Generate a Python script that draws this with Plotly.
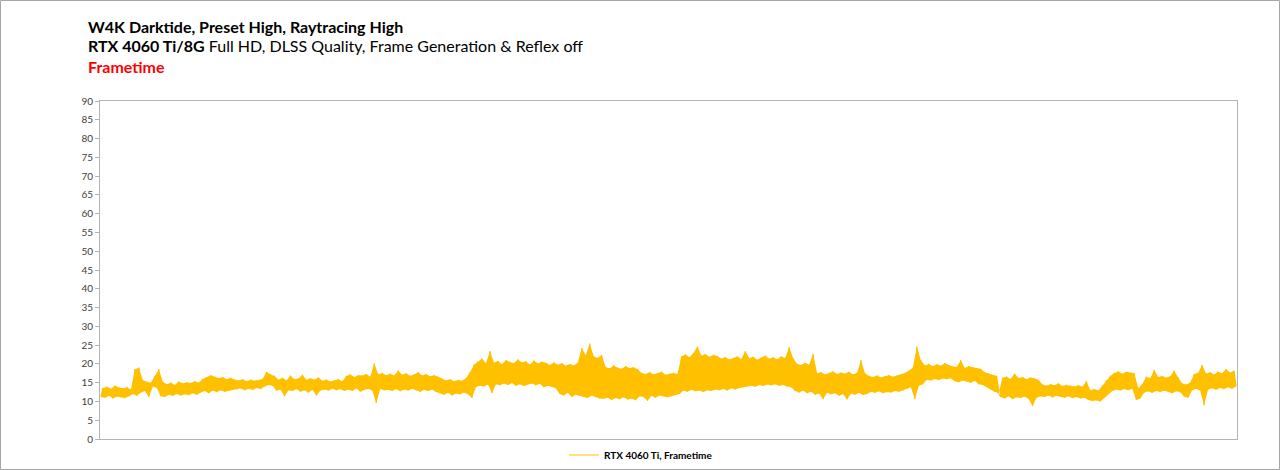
import plotly.graph_objects as go

# Frametime readings (ms), sample order left to right
seg_a = [11.2, 13.6, 11.0, 13.9, 11.5, 13.4, 10.8, 14.2, 11.3, 13.7, 11.1, 13.5, 10.9, 13.8, 11.4, 13.2,
         12.0, 18.6, 11.5, 19.0,
         12.4, 15.6, 12.8, 15.2, 11.2, 15.0,
         14.0, 16.8, 13.6, 18.6, 11.4,
         15.2, 11.2, 14.6, 11.8, 15.0, 11.5, 14.4, 12.0, 15.3, 11.6, 14.8, 11.9, 15.1, 11.7, 14.9, 12.2, 15.4, 11.8, 15.0,
         12.4, 16.0, 12.8, 16.4, 12.2, 17.0, 12.9, 16.6, 12.5, 16.2, 13.0, 16.5, 12.6, 15.9, 12.8, 16.3, 13.1, 15.8]
seg_b = [13.2, 15.6, 13.5, 15.9, 13.0, 15.4, 13.4, 15.8, 13.1, 15.5, 13.6, 15.7, 13.3, 16.0,
         14.0, 17.9, 14.4, 17.2, 14.2, 16.8,
         12.9, 15.8, 13.2, 16.3, 11.4, 15.6, 13.0, 16.9, 12.8, 15.9, 13.3, 16.1, 12.6, 17.1, 13.0, 15.7, 12.4, 16.2, 13.1, 15.8, 11.6, 16.4, 12.9,
         15.5, 13.2, 15.8, 12.9, 15.3, 13.4, 15.6, 13.0, 15.9, 13.3, 15.4, 12.8,
         16.8, 13.2, 17.2, 12.8, 16.5, 13.5, 17.0, 12.6, 16.9, 13.1, 17.3, 13.4, 16.6, 12.9, 20.1, 9.6, 17.2, 13.3, 17.6, 13.0]
seg_c = [17.0, 13.1, 17.4, 12.8, 16.9, 13.3, 18.2, 12.7, 17.1, 13.2, 17.5, 12.9, 16.8, 13.4, 17.2, 13.0, 17.8, 12.6, 16.9, 13.1, 17.3, 12.8, 16.7, 13.2, 17.0, 12.5, 16.6,
         12.2, 16.0, 11.8, 15.6, 12.3, 15.9, 11.6, 15.4, 12.1, 15.7, 11.9, 15.5, 12.4, 16.2, 11.9,
         17.8, 10.9, 19.8, 13.9, 20.6, 14.2, 21.4, 14.0, 20.2, 14.5, 23.4, 12.2,
         20.3, 14.6, 20.8, 14.3, 19.9, 14.8, 21.0, 14.4, 20.5, 14.9, 20.2, 14.2, 21.2, 14.6, 20.4, 14.1, 20.7, 14.5, 19.8, 14.8, 20.9, 14.3, 20.1, 14.7, 20.6, 13.8, 20.3, 14.2, 19.7, 13.9, 20.4, 13.5]
seg_d = [19.8, 12.0, 20.2, 11.6, 19.5, 12.3, 20.0, 11.2, 19.6, 11.8, 20.3, 11.5,
         24.2, 11.4, 22.3, 10.9, 25.4, 11.6, 22.0, 11.1, 21.6, 10.8, 22.4,
         10.7, 19.2, 11.0, 18.8, 10.4, 19.6, 10.9, 19.0, 10.6, 18.7, 11.1, 19.4, 10.5, 18.9, 10.8, 19.1, 10.3, 18.6,
         11.4, 17.6, 11.2, 17.3, 10.2, 17.8, 11.5, 17.2, 11.0, 17.5, 11.6, 17.9, 11.3, 17.1, 11.1, 17.4, 11.4, 17.6, 11.7, 17.3, 12.0,
         22.0, 12.9, 22.5, 12.6, 21.8, 13.1, 22.8, 12.7, 24.6, 12.9, 22.2, 12.5, 22.6, 13.0, 21.9, 12.8, 22.4, 13.2, 22.1]
seg_e = [13.0, 21.4, 13.3, 21.8, 12.9, 21.2, 13.5, 21.6, 13.2, 22.0, 13.6, 21.3, 13.8, 23.4, 14.0, 21.5, 14.2, 21.9, 13.9, 21.1,
         14.4, 21.7, 14.1, 22.2, 14.5, 21.4, 14.3, 21.8, 14.6, 21.2, 14.2, 22.0, 14.4, 21.6, 14.0, 24.4, 13.8, 21.5,
         12.8, 20.0, 12.4, 19.7, 12.9, 20.3, 12.2, 19.8, 12.6, 22.6,
         11.8, 17.5, 12.1, 17.8, 10.6, 17.2, 12.3, 17.6, 11.9, 18.0, 12.2, 17.3, 11.5, 17.7, 12.0, 17.4, 10.5, 17.9, 12.1, 17.2, 11.8, 17.6, 12.3, 21.0, 11.7, 17.5, 12.0,
         16.8, 12.6, 16.5, 12.3, 16.9, 12.7, 16.4, 12.2, 16.7, 12.5, 17.0, 12.4, 16.6, 12.8, 16.9, 12.6, 17.1, 12.9,
         17.6, 13.4, 18.2, 13.8, 19.0, 10.6, 24.6, 14.2, 21.0, 14.6,
         19.6, 15.8, 20.0, 15.6, 19.4, 16.0, 19.9, 15.7, 19.5, 16.1, 20.2, 15.9, 19.7, 16.2, 19.3]
seg_f = [15.4, 19.2, 15.1, 21.0, 15.6, 18.9, 15.3, 19.4, 15.0, 19.1, 15.5, 18.8, 14.6, 18.7, 14.4,
         17.8, 13.9, 17.4, 13.2, 17.0, 12.6, 16.8, 12.2,
         11.2, 16.3, 10.8, 16.6, 11.4, 16.0, 10.6, 17.4, 11.1, 16.2, 10.9, 16.5, 11.3, 15.9, 10.7, 16.4, 8.8, 16.1, 11.0, 15.7,
         11.4, 14.5, 11.2, 14.2, 11.6, 14.6, 11.1, 14.3, 11.5, 14.8, 11.3, 14.1, 11.0, 14.4, 11.4, 14.2, 10.9, 14.0, 11.2, 14.3, 10.8, 13.9, 11.0,
         15.4, 10.4, 13.0, 10.1, 13.3, 10.3, 12.9, 10.0,
         14.2, 11.0, 15.6, 12.0, 16.8,
         12.8, 17.6, 13.2, 18.0, 12.9, 17.4, 13.3, 17.9, 13.0, 17.7, 13.4, 17.5,
         10.4, 13.5, 10.8, 14.6,
         12.4, 16.6, 12.7, 16.2, 12.3, 18.4, 12.8, 16.5, 12.5, 16.8, 12.9, 16.3, 12.6, 16.7, 12.2, 18.2, 12.7, 16.4, 12.5,
         14.8, 11.3, 14.5, 11.0, 15.0,
         13.0, 17.3, 13.4, 17.6, 12.9, 19.7, 9.0, 17.4, 13.2, 17.8, 13.5, 17.2, 13.1, 17.9, 13.6, 17.5, 13.3, 18.6, 13.8, 17.7, 13.4, 18.2, 14.0]

frametime = seg_a + seg_b + seg_c + seg_d + seg_e + seg_f
samples = list(range(len(frametime)))

y_ticks = list(range(0, 95, 5))
series_name = "RTX 4060 Ti, Frametime"
title_1 = "<b>W4K Darktide, Preset High, Raytracing High</b>"
title_2 = "<b>RTX 4060 Ti/8G</b> Full HD, DLSS Quality, Frame Generation &amp; Reflex off"
title_3 = "<b>Frametime</b>"

FONT = "Lato, 'Open Sans', sans-serif"
GOLD = "#FFC000"
W, H = 1280, 470
L, R, T, B = 100, 43, 101, 31
pw, ph = W - L - R, H - T - B

def px_x(p):
    return (p - L) / pw

def px_y(p):
    return (H - B - p) / ph

fig = go.Figure()
# dense band: area between alternate samples of the same series (no legend entry)
fig.add_trace(go.Scatter(x=samples[0::2], y=frametime[0::2], mode="lines",
                         line=dict(width=0, color=GOLD), showlegend=False, hoverinfo="skip"))
fig.add_trace(go.Scatter(x=samples[1::2], y=frametime[1::2], mode="lines", fill="tonexty",
                         fillcolor=GOLD, line=dict(width=0, color=GOLD),
                         showlegend=False, hoverinfo="skip"))
# the frametime line itself
fig.add_trace(go.Scatter(
    x=samples, y=frametime, mode="lines", name="<b>" + series_name + "</b>",
    line=dict(color=GOLD, width=1.2), showlegend=True,
))

fig.update_layout(
    width=W, height=H,
    margin=dict(l=L, r=R, t=T, b=B, pad=0, autoexpand=False),
    paper_bgcolor="white", plot_bgcolor="white",
    font=dict(family=FONT, color="#000000"),
    xaxis=dict(range=[-0.5, len(frametime) - 0.5], showticklabels=False, ticks="",
               showgrid=False, zeroline=False, showline=True, mirror=True,
               linecolor="#b4b4b4", linewidth=1),
    yaxis=dict(range=[0, 90], tickvals=y_ticks, ticks="outside", ticklen=4,
               tickcolor="#b4b4b4", showgrid=False, zeroline=False,
               showline=True, mirror=True, linecolor="#b4b4b4", linewidth=1,
               tickfont=dict(size=10, color="#404040", family=FONT)),
    legend=dict(orientation="h", x=px_x(641), xanchor="center", y=px_y(455), yanchor="middle",
                font=dict(size=10, color="#000000", family=FONT),
                bgcolor="rgba(0,0,0,0)", itemwidth=30),
    showlegend=True,
)

for txt, yc, col in [(title_1, 26, "#000000"), (title_2, 46, "#000000"), (title_3, 66, "#FF0000")]:
    fig.add_annotation(text=txt, xref="paper", yref="paper", x=px_x(86), y=px_y(yc),
                       xanchor="left", yanchor="middle", showarrow=False,
                       font=dict(size=16, color=col, family=FONT))

fig.add_shape(type="rect", xref="paper", yref="paper",
              x0=px_x(0.5), x1=px_x(1279.5), y0=px_y(469.5), y1=px_y(0.5),
              line=dict(color="#a6a6a6", width=1), fillcolor="rgba(0,0,0,0)", layer="below")

fig.write_html("out.html")
